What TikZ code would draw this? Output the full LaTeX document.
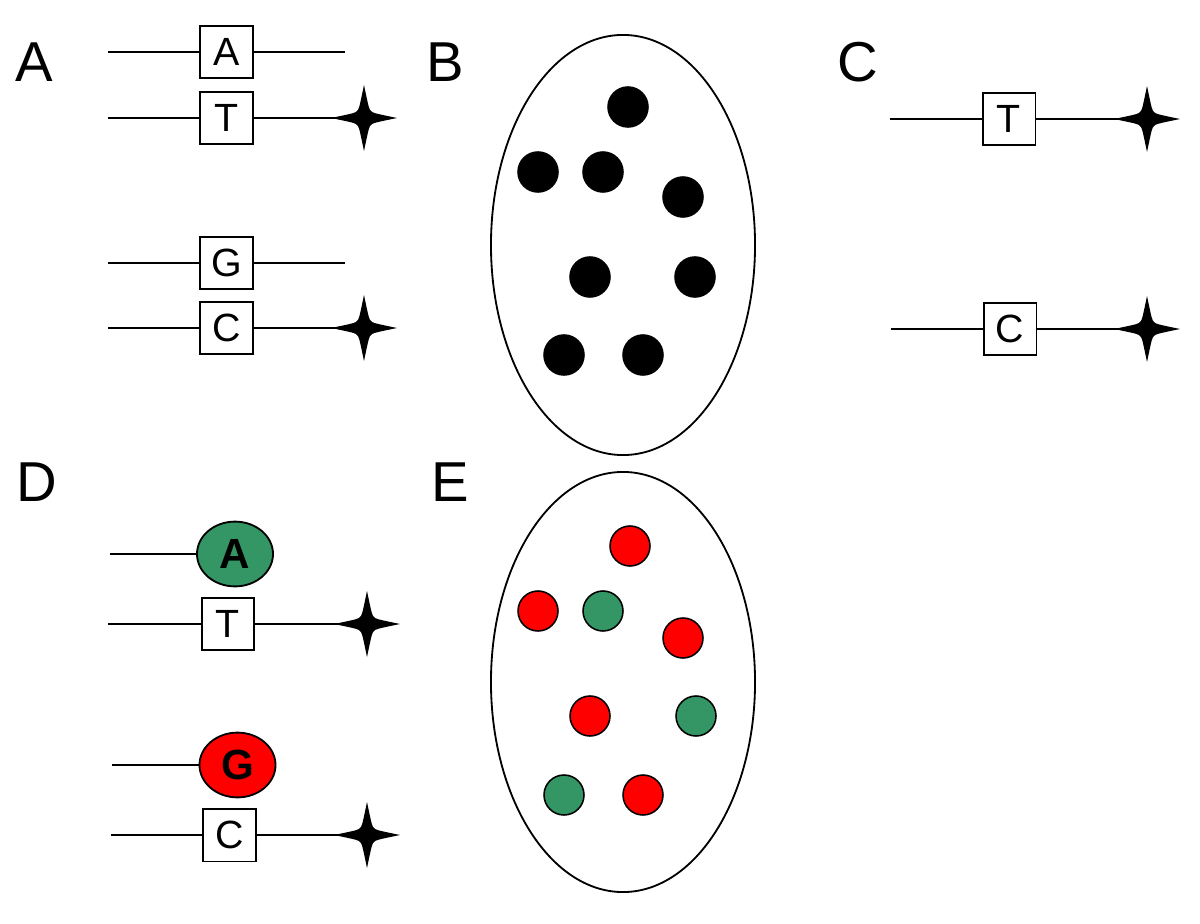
\documentclass[tikz,border=0pt]{standalone}
\usepackage{fontspec}
\setmainfont{Liberation Sans}
\usetikzlibrary{shapes.geometric}

\definecolor{probegreen}{RGB}{51,150,100}

\begin{document}
\begin{tikzpicture}[x=0.025cm,y=-0.025cm,
        strand/.style={line width=1.6pt},
        base/.style={draw,fill=white,line width=1.3pt,minimum size=1.32cm,inner sep=0pt,font=\fontsize{28}{30}\selectfont},
        probe/.style={draw,ellipse,line width=1.3pt,minimum width=1.9cm,minimum height=1.62cm,inner sep=0pt,font=\bfseries\fontsize{30}{32}\selectfont},
        panel/.style={anchor=base west,inner sep=0pt,font=\fontsize{40}{44}\selectfont},
        pool/.style={draw,ellipse,line width=1.3pt,minimum width=6.6cm,minimum height=10.5cm},
        dot/.style={circle,draw,line width=1.1pt,minimum size=1cm,inner sep=0pt},
        tagstar/.pic={\fill (0,-33) .. controls (5,-9) .. (7,-7) .. controls (9,-5) .. (33,0) .. controls (9,5) .. (7,7) .. controls (5,9) .. (0,33) .. controls (-5,9) .. (-7,7) .. controls (-9,5) .. (-33,0) .. controls (-9,-5) .. (-7,-7) .. controls (-5,-9) .. cycle;}]
    \useasboundingbox (0,0) rectangle (1200,924);

    % panel letters
    \node[panel] (labA) at (15,82) {A};
    \node[panel] (labB) at (426,82) {B};
    \node[panel] (labC) at (837,82) {C};
    \node[panel] (labD) at (16,501) {D};
    \node[panel] (labE) at (431,501) {E};

    % A
    \coordinate (a1s) at (108,52);
    \node[base] (a1) at (226.5,52) {A};
    \coordinate (a1e) at (345,52);
    \coordinate (a2s) at (108,118);
    \node[base] (a2) at (226.5,118) {T};
    \coordinate (a2e) at (364,118);
    \coordinate (a3s) at (108,263);
    \node[base] (a3) at (226.5,263) {G};
    \coordinate (a3e) at (345,263);
    \coordinate (a4s) at (108,328);
    \node[base] (a4) at (226.5,328) {C};
    \coordinate (a4e) at (364,328);
    \draw[strand] (a1s) -- (a1) -- (a1e);
    \draw[strand] (a2s) -- (a2) -- (a2e);
    \draw[strand] (a3s) -- (a3) -- (a3e);
    \draw[strand] (a4s) -- (a4) -- (a4e);
    \pic at (a2e) {tagstar};
    \pic at (a4e) {tagstar};

    % B
    \node[pool] (poolB) at (623,245) {};
    \foreach \n/\x/\y in {1/628/107, 2/538/172, 3/603/172, 4/683/197, 5/590/277, 6/695/277, 7/564/355, 8/643/355}
        \node[dot,fill=black] (b\n) at (\x,\y) {};

    % C
    \coordinate (c1s) at (890,119);
    \node[base] (c1) at (1009,119) {T};
    \coordinate (c1e) at (1147,119);
    \coordinate (c2s) at (891,329);
    \node[base] (c2) at (1010,329) {C};
    \coordinate (c2e) at (1147,329);
    \draw[strand] (c1s) -- (c1) -- (c1e);
    \draw[strand] (c2s) -- (c2) -- (c2e);
    \pic at (c1e) {tagstar};
    \pic at (c2e) {tagstar};

    % D
    \coordinate (d1s) at (110,554);
    \node[probe,fill=probegreen] (d1) at (235,554) {A};
    \coordinate (d2s) at (108,624);
    \node[base] (d2) at (228,624) {T};
    \coordinate (d2e) at (367,624);
    \coordinate (d3s) at (112,765);
    \node[probe,fill=red] (d3) at (237.5,765) {G};
    \coordinate (d4s) at (111,835);
    \node[base] (d4) at (229.5,835) {C};
    \coordinate (d4e) at (367,835);
    \draw[strand] (d1s) -- (d1);
    \draw[strand] (d2s) -- (d2) -- (d2e);
    \draw[strand] (d3s) -- (d3);
    \draw[strand] (d4s) -- (d4) -- (d4e);
    \pic at (d2e) {tagstar};
    \pic at (d4e) {tagstar};

    % E
    \node[pool] (poolE) at (623,682) {};
    \foreach \n/\x/\y/\c in {1/630/546/red, 2/538/611/red, 3/603/611/probegreen, 4/683/638/red, 5/590/716/red, 6/696/716/probegreen, 7/564/795/probegreen, 8/643/795/red}
        \node[dot,fill=\c] (e\n) at (\x,\y) {};
\end{tikzpicture}
\end{document}
